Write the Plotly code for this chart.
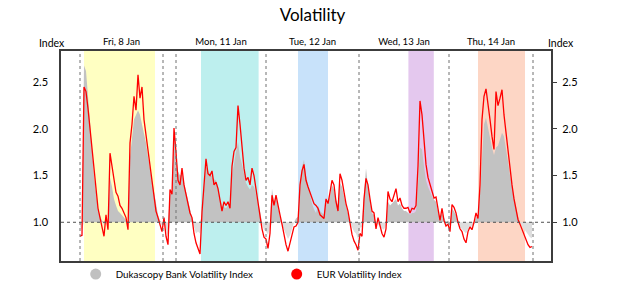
import plotly.graph_objects as go
import numpy as np

# ---- data (one sample every step, Fri 8 Jan -> Thu 14 Jan) ----
eur_index = [
    0.85, 0.86, 2.45, 2.40, 2.22, 2.00, 1.75, 1.55, 1.35, 1.15, 1.05, 0.95, 0.85, 1.08, 0.92,
    1.74, 1.58, 1.45, 1.32, 1.28, 1.18, 1.15, 1.10, 1.05, 0.92, 1.85, 2.05, 2.35, 2.20, 2.58,
    2.33, 2.45, 2.10, 1.93, 1.78, 1.62, 1.45, 1.30, 1.12, 1.05, 0.98, 0.90, 1.05, 0.85, 0.76,
    1.35, 1.30, 2.01, 1.75, 1.45, 1.40, 1.58, 1.40, 1.30, 1.22, 1.10, 1.05, 0.88, 0.78,
    0.72, 0.66, 1.11, 1.35, 1.68, 1.52, 1.50, 1.55, 1.40, 1.43, 1.36, 1.24, 1.12, 1.22, 1.18,
    1.22, 1.15, 1.60, 1.76, 1.80, 2.25, 2.05, 1.78, 1.58, 1.45, 1.48, 1.40, 1.58, 1.50, 1.35,
    1.20, 1.08, 0.93, 0.84, 0.82, 0.72, 0.88, 1.29, 1.18, 1.29, 1.20, 1.08, 0.98, 0.85, 0.76,
    0.69, 0.78, 0.86, 0.95, 0.96, 1.00, 1.40, 1.55, 1.62, 1.45, 1.38, 1.32, 1.24, 1.20, 1.18,
    1.15, 1.08, 1.06, 1.04, 1.25, 1.20, 1.32, 1.45, 1.40, 1.22, 1.12, 1.52, 1.45, 1.30, 1.20,
    1.12, 0.98, 0.87, 0.80, 0.76, 0.70, 0.88, 0.85, 1.25, 1.47, 1.40, 1.25, 1.12, 1.10, 0.93,
    1.05, 0.97, 0.88, 0.84, 0.93, 1.33, 1.25, 1.22, 1.30, 1.36, 1.22, 1.26, 1.18, 1.15, 1.15,
    1.16, 1.10, 1.15, 1.14, 1.18, 1.60, 2.30, 2.15, 1.85, 1.62, 1.48, 1.40, 1.35, 1.26, 1.27,
    1.12, 1.02, 1.15, 1.02, 0.96, 0.98, 0.90, 1.19, 1.16, 1.10, 1.00, 0.93, 0.90, 0.82, 0.78,
    0.90, 0.95, 0.92, 1.00, 1.10, 1.04, 1.40, 2.10, 2.35, 2.43, 2.28, 2.10, 1.92, 1.78, 2.40,
    2.25, 2.33, 2.42, 2.15, 1.95, 1.75, 1.55, 1.40, 1.25, 1.12, 1.03, 0.98, 0.92, 0.86, 0.82,
    0.76, 0.73, 0.74,
]

dukascopy_index = [
    0.95, 0.92, 2.68, 2.62, 2.35, 2.05, 1.70, 1.50, 1.32, 1.15, 1.07, 1.02, 0.97, 1.05, 1.00,
    1.48, 1.38, 1.25, 1.18, 1.12, 1.10, 1.08, 1.05, 1.02, 0.98, 1.70, 1.90, 2.10, 2.15, 2.20,
    2.15, 2.05, 1.95, 1.85, 1.70, 1.58, 1.45, 1.30, 1.18, 1.08, 1.02, 0.96, 1.00, 0.92, 0.85,
    1.30, 1.35, 1.95, 1.70, 1.55, 1.50, 1.52, 1.42, 1.32, 1.22, 1.12, 1.05, 0.95, 0.88,
    0.90, 0.88, 1.08, 1.30, 1.60, 1.55, 1.52, 1.48, 1.46, 1.45, 1.38, 1.25, 1.18, 1.16, 1.15,
    1.18, 1.20, 1.50, 1.65, 1.75, 1.86, 1.70, 1.62, 1.50, 1.42, 1.38, 1.35, 1.40, 1.38, 1.30,
    1.22, 1.12, 0.98, 0.92, 0.90, 0.87, 0.94, 1.36, 1.22, 1.26, 1.18, 1.05, 0.97, 0.92, 0.86,
    0.82, 0.86, 0.92, 1.00, 1.04, 1.06, 1.35, 1.60, 1.67, 1.50, 1.40, 1.30, 1.20, 1.14, 1.10,
    1.18, 1.12, 1.10, 1.08, 1.20, 1.24, 1.28, 1.40, 1.35, 1.25, 1.18, 1.42, 1.38, 1.28, 1.18,
    1.10, 1.00, 0.95, 0.90, 0.88, 0.82, 0.94, 0.95, 1.30, 1.58, 1.38, 1.22, 1.10, 1.08, 0.98,
    0.98, 0.95, 0.93, 0.92, 0.97, 1.22, 1.18, 1.20, 1.22, 1.25, 1.18, 1.20, 1.15, 1.12, 1.12,
    1.10, 1.08, 1.10, 1.10, 1.12, 1.40, 1.80, 1.78, 1.60, 1.45, 1.38, 1.32, 1.28, 1.24, 1.22,
    1.12, 1.05, 1.10, 1.05, 0.98, 1.02, 0.96, 1.15, 1.12, 1.08, 1.02, 0.95, 0.93, 0.90, 0.88,
    0.92, 0.94, 0.95, 0.98, 1.05, 1.08, 1.30, 1.75, 2.05, 2.12, 2.00, 1.90, 1.80, 1.72, 1.80,
    1.82, 1.90, 1.96, 1.92, 1.80, 1.65, 1.50, 1.38, 1.28, 1.15, 1.06, 1.00, 0.96, 0.93, 0.90,
    0.86, 0.84, 0.83,
]

day_labels = ["Fri, 8 Jan", "Mon, 11 Jan", "Tue, 12 Jan", "Wed, 13 Jan", "Thu, 14 Jan"]
day_starts = [0, 48, 93, 139.5, 184.5]
day_ends = [41.5, 93, 139.5, 184.5, 226.5]
separators = [0, 41.5, 48, 93, 139.5, 184.5, 226.5]
session_starts = [2, 60.5, 109, 164.2, 199]
session_ends = [37.5, 89.3, 124, 176.9, 222.5]
y_ticks = [1.0, 1.5, 2.0, 2.5]
baseline = 1.0

# ---- styles ----
session_colors = ["#FFFFC2", "#BDEFEE", "#C8E2FA", "#E4C8EE", "#FDD6C5"]
FONT = "Lato, 'Open Sans', sans-serif"
AXIS_COLOR = "#3C3C3C"

t = list(range(len(eur_index)))
g = np.array(dukascopy_index)
upper = np.maximum(g, baseline)
lower = np.minimum(g, baseline)
base = [baseline] * len(t)

fig = go.Figure()
fig.add_trace(go.Scatter(x=t, y=base, mode="lines", line=dict(width=0), hoverinfo="skip", showlegend=False))
fig.add_trace(go.Scatter(x=t, y=upper, mode="lines", line=dict(width=0), fill="tonexty",
                         fillcolor="#C2C2C2", showlegend=False))
fig.add_trace(go.Scatter(x=t, y=base, mode="lines", line=dict(width=0), hoverinfo="skip", showlegend=False))
fig.add_trace(go.Scatter(x=t, y=lower, mode="lines", line=dict(width=0), fill="tonexty",
                         fillcolor="#DEDEDE", showlegend=False))
fig.add_trace(go.Scatter(x=t, y=eur_index, mode="lines", line=dict(color="#FF0000", width=1.3),
                         showlegend=False))
# legend entries
fig.add_trace(go.Scatter(x=[None], y=[None], mode="markers", name="Dukascopy Bank Volatility Index",
                         marker=dict(color="#C0C0C0", size=11)))
fig.add_trace(go.Scatter(x=[None], y=[None], mode="markers", name="EUR Volatility Index",
                         marker=dict(color="#FF0000", size=11)))
# right axis carrier
fig.add_trace(go.Scatter(x=[t[0]], y=[baseline], yaxis="y2", mode="markers",
                         marker=dict(opacity=0), hoverinfo="skip", showlegend=False))

shapes = []
for s, e, c in zip(session_starts, session_ends, session_colors):
    shapes.append(dict(type="rect", xref="x", yref="paper", x0=s, x1=e, y0=0, y1=1,
                       fillcolor=c, line=dict(width=0), layer="below"))
for sx in separators:
    shapes.append(dict(type="line", xref="x", yref="paper", x0=sx, x1=sx, y0=0, y1=1,
                       line=dict(color="#707070", width=1, dash="dot"), layer="above"))
shapes.append(dict(type="line", xref="paper", yref="y", x0=0, x1=1, y0=baseline, y1=baseline,
                   line=dict(color="#505050", width=1, dash="dot"), layer="above"))

centers = [(s + e) / 2 for s, e in zip(day_starts, day_ends)]
yr = [0.585, 2.835]

fig.update_layout(
    width=625, height=281,
    margin=dict(l=61, r=74, t=51, b=20, autoexpand=False),
    paper_bgcolor="white", plot_bgcolor="white",
    font=dict(family=FONT, color="#000000", size=11),
    title=dict(text="Volatility", x=0.5, xanchor="center", y=0.947, yanchor="middle",
               font=dict(size=17, family=FONT, color="#000000")),
    shapes=shapes,
    showlegend=True,
    legend=dict(orientation="h", x=0.03, xanchor="left", y=-0.062, yanchor="middle",
                traceorder="normal",
                font=dict(size=9.8, family=FONT), entrywidth=156, entrywidthmode="pixels",
                bgcolor="rgba(0,0,0,0)", itemclick=False),
    xaxis=dict(range=[-9.5, 235.5], side="top", tickvals=centers, ticktext=day_labels,
               ticks="", showline=True, mirror=True, linecolor=AXIS_COLOR, linewidth=1.5,
               showgrid=False, zeroline=False, tickfont=dict(size=9.6), ticklabelstandoff=0),
    yaxis=dict(range=yr, tickvals=y_ticks, tickformat=".1f", ticks="", showline=True, mirror=True,
               linecolor=AXIS_COLOR, linewidth=1.5, showgrid=False, zeroline=False,
               tickfont=dict(size=11), ticklabelstandoff=9),
    yaxis2=dict(range=yr, overlaying="y", side="right", tickvals=y_ticks, tickformat=".1f",
                ticks="outside", ticklen=5, tickcolor=AXIS_COLOR, showline=False, showgrid=False,
                zeroline=False, tickfont=dict(size=11), ticklabelstandoff=3),
    annotations=[
        dict(text="Index", xref="paper", yref="paper", x=-0.019, y=1.038, showarrow=False,
             xanchor="center", yanchor="middle", font=dict(size=10.5)),
        dict(text="Index", xref="paper", yref="paper", x=1.0204, y=1.038, showarrow=False,
             xanchor="center", yanchor="middle", font=dict(size=10.5)),
    ],
)

fig.write_html("out.html")
